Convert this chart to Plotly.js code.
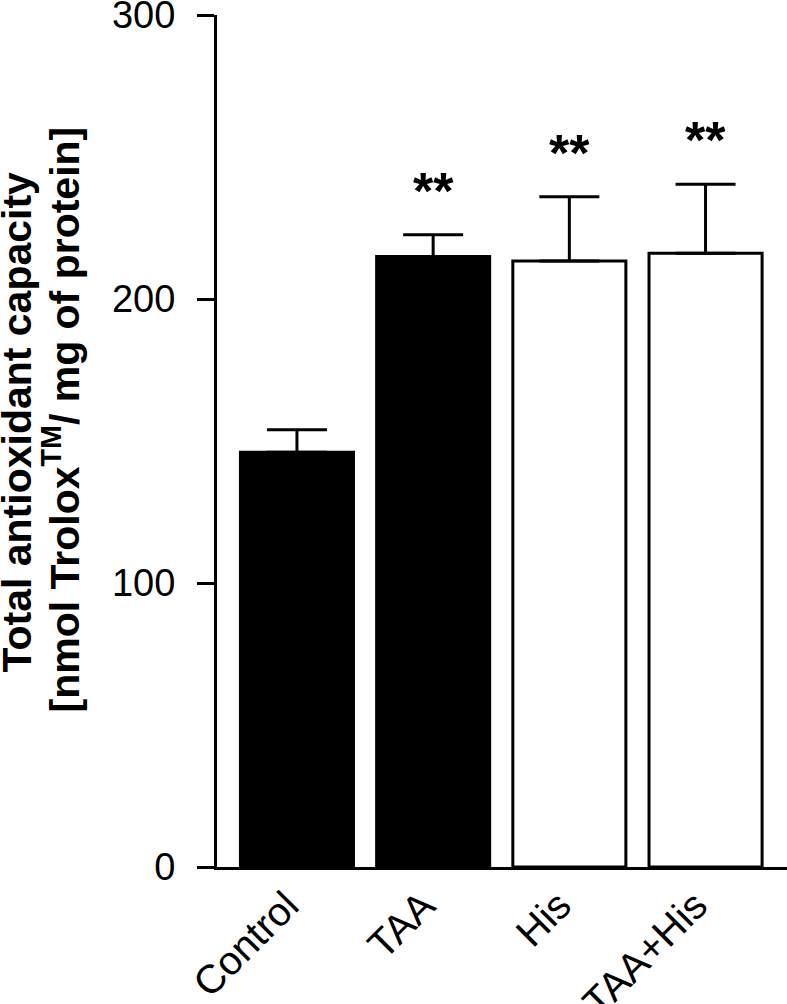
<!DOCTYPE html>
<html>
<head>
<meta charset="utf-8">
<script src="https://cdn.plot.ly/plotly-3.0.1.min.js"></script>
<style>html,body{margin:0;padding:0;background:#fff;}#chart{width:787px;height:1004px;}</style>
</head>
<body>
<div id="chart"></div>
<script>
// Data
const categories = ['Control', 'TAA', 'His', 'TAA+His'];
const means = [146, 215, 213.4, 216.1];
const sems = [8, 7.6, 22.6, 24.3];
const fills = ['#000000', '#000000', '#ffffff', '#ffffff'];
const sigLabels = ['', '**', '**', '**'];
const yTickVals = [0, 100, 200, 300];
const yTitleLine1 = 'Total antioxidant capacity';
const yTitleLine2 = '[nmol Trolox<sup>TM</sup>/ mg of protein]';

const FONT = 'Arial, "Liberation Sans", Helvetica, sans-serif';

const trace = {
  type: 'bar',
  x: categories,
  y: means,
  width: 0.83,
  marker: { color: fills, line: { color: '#000', width: 3 } },
  error_y: {
    type: 'data', symmetric: false,
    array: sems, arrayminus: sems.map(() => 0),
    color: '#000', thickness: 3, width: 30
  },
  hoverinfo: 'skip'
};

const annotations = [];
categories.forEach((c, i) => {
  if (sigLabels[i]) {
    annotations.push({
      x: c, y: means[i] + sems[i], xref: 'x', yref: 'y',
      text: sigLabels[i], showarrow: false,
      xanchor: 'center', yanchor: 'middle', yshift: 44,
      font: { family: FONT, size: 52, color: '#000', weight: 'bold' }
    });
  }
});
annotations.push({
  xref: 'paper', yref: 'paper', x: -0.3526, y: 0.5217,
  xanchor: 'center', yanchor: 'middle', textangle: -90, showarrow: false,
  text: '<b>' + yTitleLine1 + '</b>',
  font: { family: FONT, size: 41, color: '#000' }
});
annotations.push({
  xref: 'paper', yref: 'paper', x: -0.2737, y: 0.5252,
  xanchor: 'center', yanchor: 'middle', textangle: -90, showarrow: false,
  text: '<b>' + yTitleLine2 + '</b>',
  font: { family: FONT, size: 41, color: '#000' }
});

const layout = {
  width: 787, height: 1004,
  margin: { l: 217, r: 0, t: 15, b: 137 },
  paper_bgcolor: '#fff', plot_bgcolor: '#fff',
  showlegend: false,
  xaxis: {
    type: 'category', range: [-0.587, 3.598],
    showline: true, linecolor: '#000', linewidth: 3,
    ticks: '', tickangle: -45, ticklabelstandoff: -4, ticklabelshift: -10,
    ticklabeloverflow: 'allow',
    tickfont: { family: FONT, size: 40, color: '#000' },
    showgrid: false, zeroline: false, fixedrange: true
  },
  yaxis: {
    range: [0, 300], tickvals: yTickVals, ticktext: yTickVals.map(String),
    showline: true, linecolor: '#000', linewidth: 3,
    ticks: 'outside', ticklen: 17, tickwidth: 3, tickcolor: '#000',
    ticklabelstandoff: 14, ticklabeloverflow: 'allow',
    tickfont: { family: FONT, size: 38, color: '#000' },
    showgrid: false, zeroline: false, fixedrange: true
  },
  annotations: annotations
};

Plotly.newPlot('chart', [trace], layout, { displayModeBar: false, staticPlot: true });
</script>
</body>
</html>
